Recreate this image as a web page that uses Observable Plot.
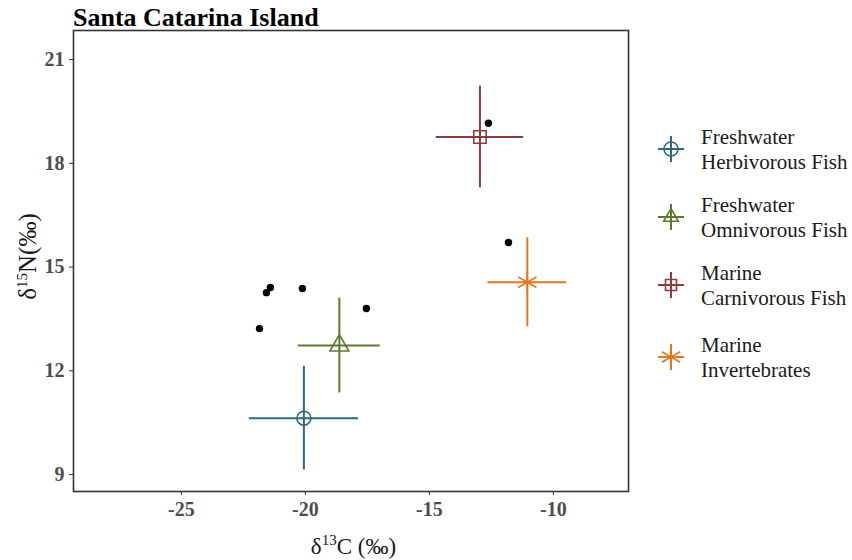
<!DOCTYPE html>
<html>
<head>
<meta charset="utf-8">
<script src="https://cdn.jsdelivr.net/npm/d3@7"></script>
<script src="https://cdn.jsdelivr.net/npm/@observablehq/plot@0.6"></script>
<style>
  body { margin: 0; background: #fff; }
  #wrap { position: relative; width: 852px; height: 560px; font-family: "Liberation Serif", "Times New Roman", serif; }
  #title { position: absolute; left: 73px; top: 3px; font-size: 26px; line-height: 30px; font-weight: bold; color: #000; }
  #legend { position: absolute; left: 656px; top: 0; }
  .item { position: absolute; left: 0; width: 200px; }
  .item svg { position: absolute; left: 0; }
  .txt { position: absolute; left: 45px; font-size: 21px; line-height: 25px; color: #1a1a1a; white-space: nowrap; }
</style>
</head>
<body>
<div id="wrap">
  <div id="title">Santa Catarina Island</div>
  <div id="chart"></div>
  <div id="legend"></div>
</div>
<script>
// Group means and spread
const groups = ["Freshwater Herbivorous Fish", "Freshwater Omnivorous Fish", "Marine Carnivorous Fish", "Marine Invertebrates"];
const groupLines = [["Freshwater", "Herbivorous Fish"], ["Freshwater", "Omnivorous Fish"], ["Marine", "Carnivorous Fish"], ["Marine", "Invertebrates"]];
const meanC = [-20.06, -18.63, -12.96, -11.05];
const sdC = [2.2, 1.65, 1.76, 1.59];
const meanN = [10.63, 12.73, 18.76, 14.56];
const sdN = [1.5, 1.37, 1.47, 1.29];
const colors = ["#2d6a7d", "#5b7a2e", "#8e3b3d", "#e8761f"];
const symbols = ["circle", "triangle", "square", "asterisk"];

// Individual samples
const sampleC = [-21.85, -21.57, -21.41, -20.12, -17.54, -12.62, -11.81];
const sampleN = [13.22, 14.26, 14.41, 14.38, 13.80, 19.16, 15.71];

const xTicks = [-25, -20, -15, -10];
const yTicks = [9, 12, 15, 18, 21];

const groupData = groups.map((g, i) => ({g, x: meanC[i], sx: sdC[i], y: meanN[i], sy: sdN[i], color: colors[i], symbol: symbols[i]}));
const samples = sampleC.map((c, i) => ({x: c, y: sampleN[i]}));

const W = 852, H = 560, mL = 73, mR = 224, mT = 30, mB = 69;
const symR = s => s === "asterisk" ? 10 : 7;

const plot = Plot.plot({
  width: W, height: H,
  marginLeft: mL, marginRight: mR, marginTop: mT, marginBottom: mB,
  style: {fontFamily: "'Liberation Serif', 'Times New Roman', serif", background: "#fff"},
  x: {domain: [-29.35, -6.97], ticks: xTicks, tickFormat: d => String(d), label: null, tickSize: 4},
  y: {domain: [8.51, 21.84], ticks: yTicks, tickFormat: d => String(d), label: null, tickSize: 4},
  r: {type: "identity"},
  marks: [
    Plot.axisX({ticks: xTicks, tickFormat: d => String(d), label: null, tickSize: 4, tickPadding: 6, stroke: "#333", fill: "#4d4d4d", fontSize: 20, fontWeight: "bold"}),
    Plot.axisY({ticks: yTicks, tickFormat: d => String(d), label: null, tickSize: 4, tickPadding: 5, stroke: "#333", fill: "#4d4d4d", fontSize: 20, fontWeight: "bold"}),
    Plot.dot(samples, {x: "x", y: "y", r: 3.7, fill: "black", stroke: "none"}),
    Plot.ruleY(groupData, {y: "y", x1: d => d.x - d.sx, x2: d => d.x + d.sx, stroke: d => d.color, strokeWidth: 2}),
    Plot.ruleX(groupData, {x: "x", y1: d => d.y - d.sy, y2: d => d.y + d.sy, stroke: d => d.color, strokeWidth: 2}),
    Plot.dot(groupData, {x: "x", y: "y", symbol: d => d.symbol, stroke: d => d.color, fill: "none", r: d => symR(d.symbol), strokeWidth: 1.6}),
    Plot.frame({stroke: "#333", strokeWidth: 1.6})
  ]
});
document.getElementById("chart").appendChild(plot);

// axis titles with superscripts
const svg = d3.select(plot);
const xt = svg.append("text")
  .attr("x", mL + (W - mL - mR) / 2 + 3).attr("y", H - 6)
  .attr("text-anchor", "middle").attr("font-size", 23).attr("fill", "#1a1a1a");
xt.append("tspan").text("δ");
xt.append("tspan").text("13").attr("font-size", 15).attr("dy", -9);
xt.append("tspan").text("C (‰)").attr("dy", 9);

const yt = svg.append("text")
  .attr("transform", `translate(36,${mT + (H - mT - mB) / 2 - 4}) rotate(-90)`)
  .attr("text-anchor", "middle").attr("font-size", 25).attr("fill", "#1a1a1a");
yt.append("tspan").text("δ");
yt.append("tspan").text("15").attr("font-size", 15).attr("dy", -9);
yt.append("tspan").text("N(‰)").attr("dy", 9);

// legend
const symMap = {circle: d3.symbolCircle, triangle: d3.symbolTriangle2, square: d3.symbolSquare2, asterisk: d3.symbolAsterisk};
const legend = d3.select("#legend");
const tops = [125, 193, 261, 333];
groupData.forEach((d, i) => {
  const item = legend.append("div").attr("class", "item").style("top", tops[i] + "px");
  const s = item.append("svg").attr("width", 30).attr("height", 48).style("top", "0px");
  const cx = 15, cy = 24, r = symR(d.symbol);
  s.append("line").attr("x1", cx - 13).attr("x2", cx + 13).attr("y1", cy).attr("y2", cy).attr("stroke", d.color).attr("stroke-width", 2);
  s.append("line").attr("x1", cx).attr("x2", cx).attr("y1", cy - 13).attr("y2", cy + 13).attr("stroke", d.color).attr("stroke-width", 2);
  s.append("path").attr("transform", `translate(${cx},${cy})`)
    .attr("d", d3.symbol(symMap[d.symbol], Math.PI * r * r)())
    .attr("fill", "none").attr("stroke", d.color).attr("stroke-width", 1.6);
  const t = item.append("div").attr("class", "txt").style("top", "0px");
  t.append("div").text(groupLines[i][0]);
  t.append("div").text(groupLines[i][1]);
});
</script>
</body>
</html>
